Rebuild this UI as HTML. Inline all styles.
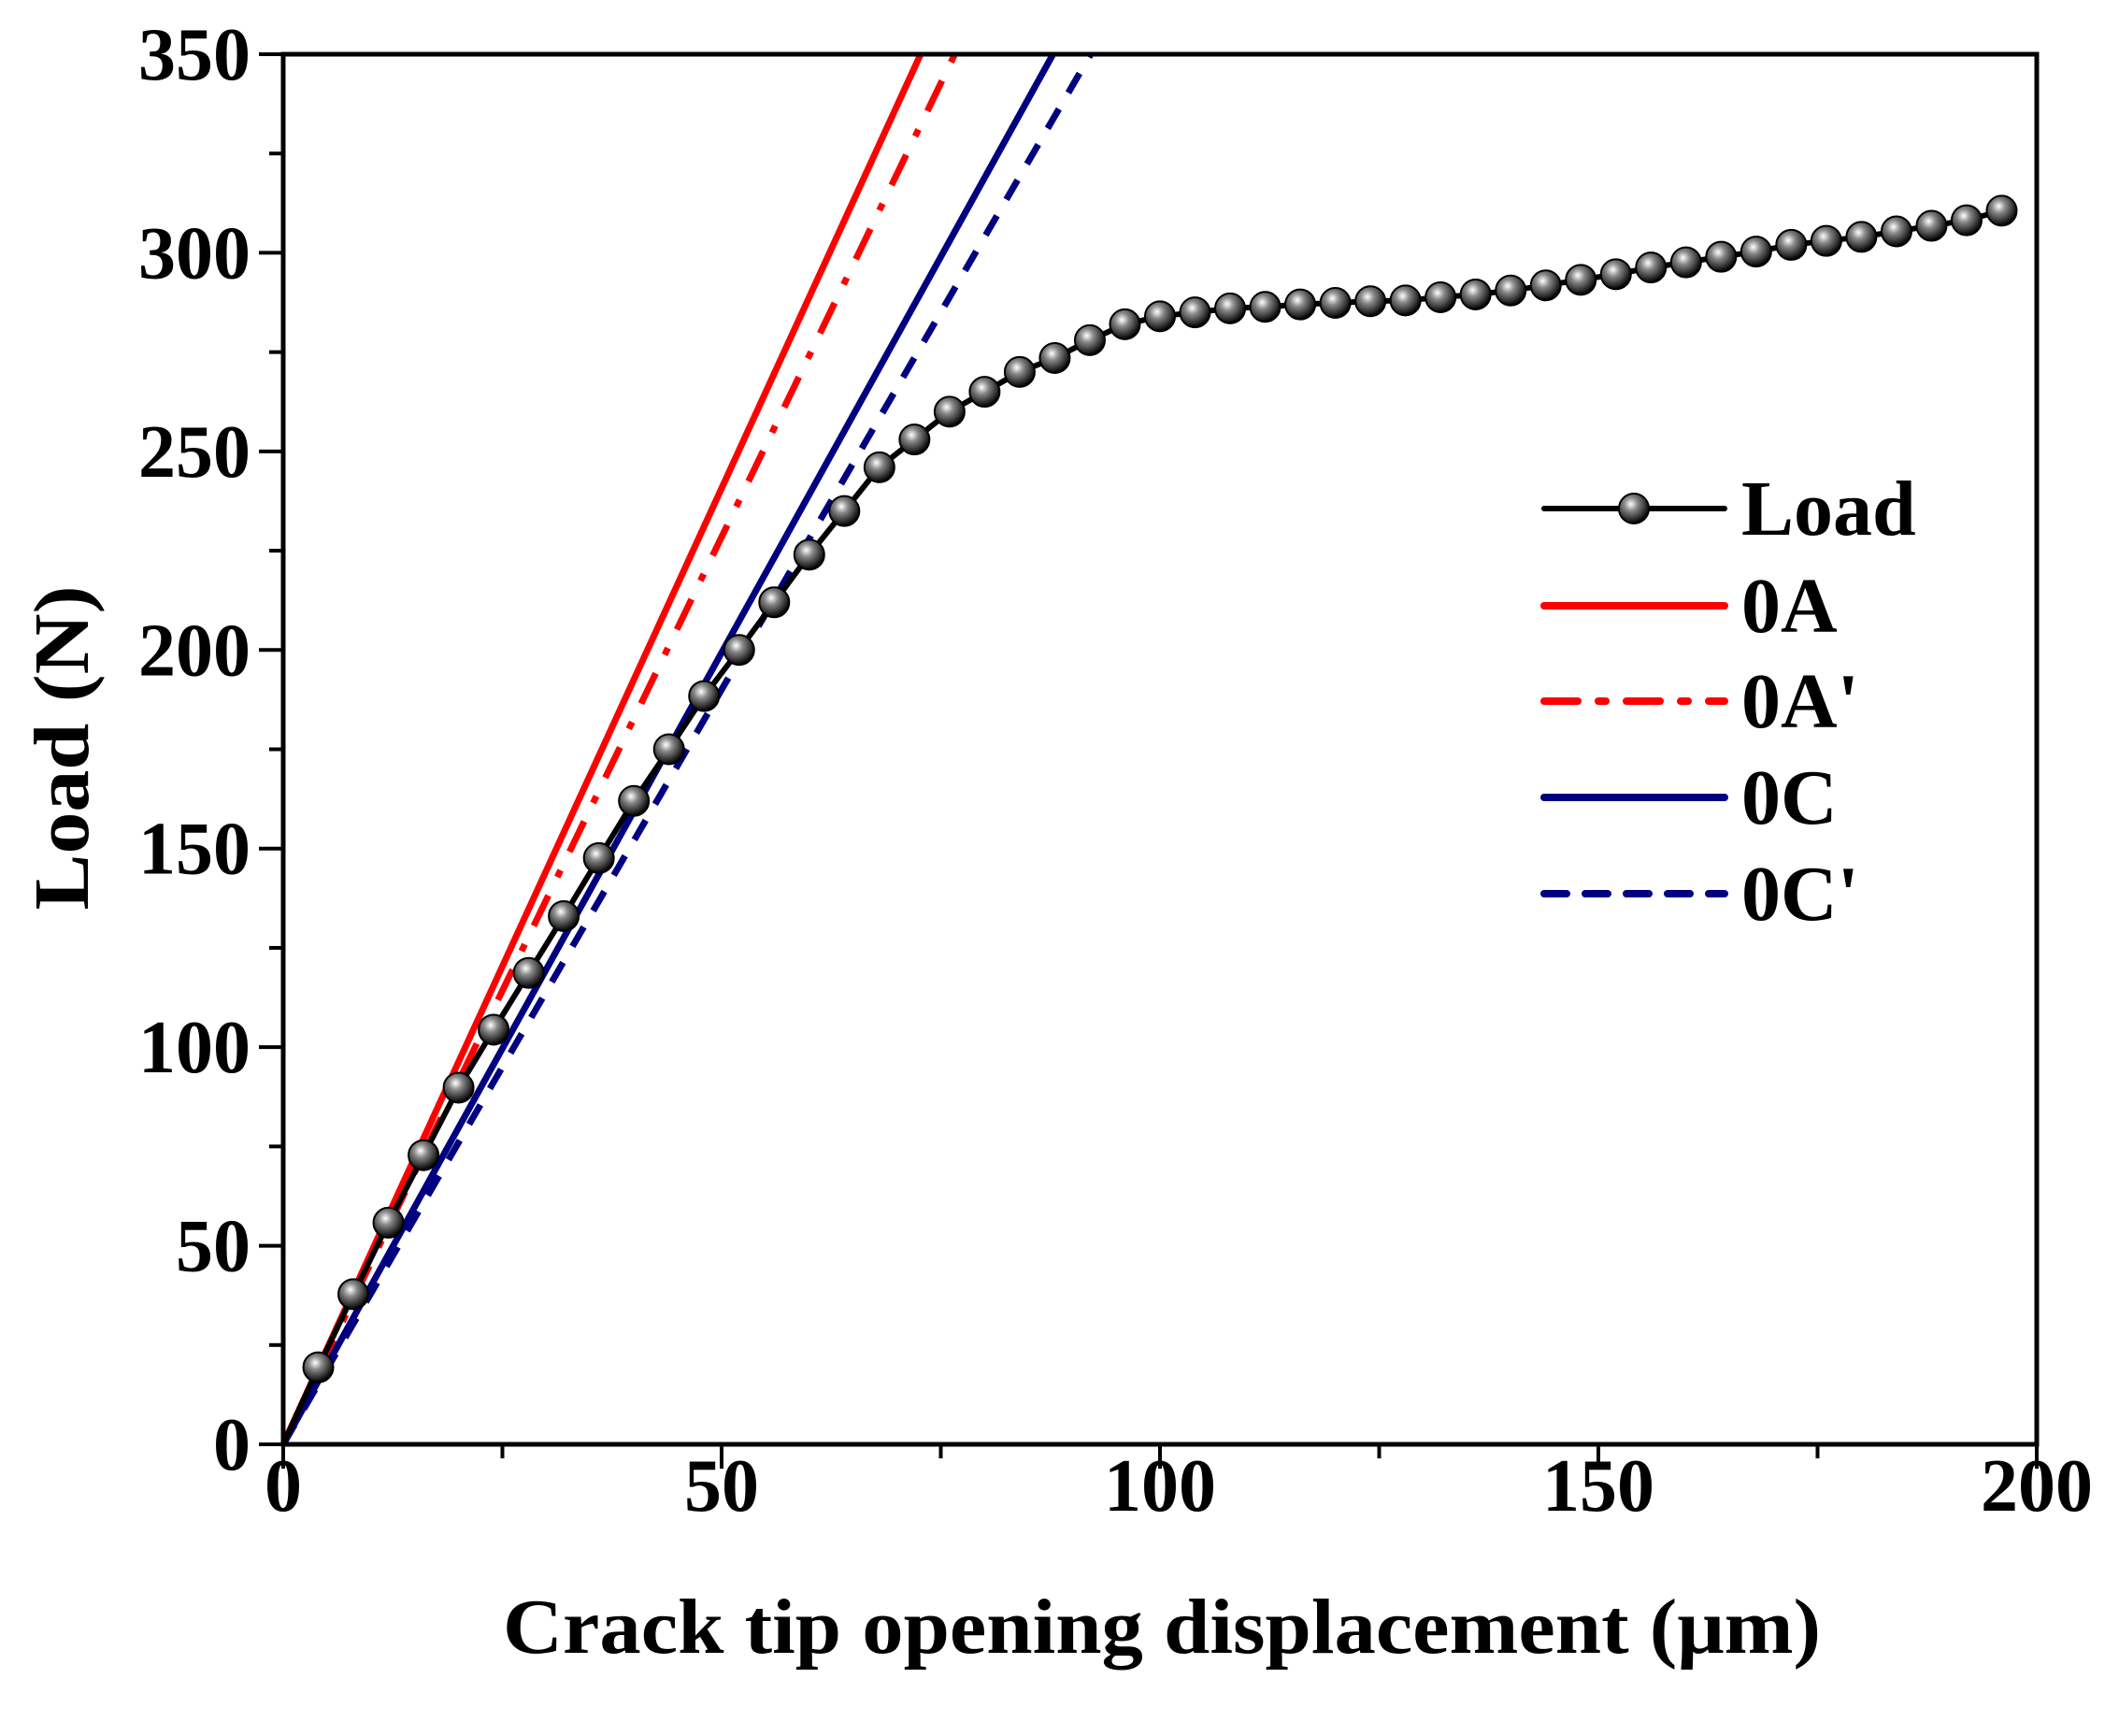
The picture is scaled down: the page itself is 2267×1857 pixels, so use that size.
<!DOCTYPE html>
<html><head><meta charset="utf-8"><style>html,body{margin:0;padding:0;background:#fff}svg{display:block}</style></head>
<body>
<svg id="chart" width="2267" height="1857" viewBox="0 0 2267 1857" xmlns="http://www.w3.org/2000/svg" font-family="'Liberation Serif', serif" font-weight="bold">
<defs>
<radialGradient id="ball" cx="0.4" cy="0.35" r="0.65">
<stop offset="0" stop-color="#fff"/><stop offset="0.35" stop-color="#888"/><stop offset="1" stop-color="#000"/>
</radialGradient>
</defs>
<g id="plot"></g>
</svg>
<script>
const xTicks = [0, 50, 100, 150, 200];
const yTicks = [0, 50, 100, 150, 200, 250, 300, 350];
const loadX = [4,8,12,16,20,24,28,32,36,40,44,48,52,56,60,64,68,72,76,80,84,88,92,96,100,104,108,112,116,120,124,128,132,136,140,144,148,152,156,160,164,168,172,176,180,184,188,192,196];
const loadY = [19.4,37.8,55.8,72.8,89.8,104.4,118.7,133,147.6,162,175,188.4,200,212,224,235,246,253,260,265,270,273.5,278,282,284,285,286,286.4,287,287.4,287.8,288,288.8,289.5,290.5,291.8,293.2,294.6,296.3,297.6,299,300.3,302,303,304,305.4,306.8,308.2,310.6];
const fitNames = ['0A', "0A'", '0C', "0C'"];
const fitXat350 = [72.7, 76.6, 87.8, 92.1];

const NS = 'http://www.w3.org/2000/svg';
const L = 303, R = 2179, T = 58, B = 1545;
const sx = v => L + v / 200 * (R - L);
const sy = v => B - v / 350 * (B - T);
const g = document.getElementById('plot');
function mk(tag, attrs, parent) {
  const e = document.createElementNS(NS, tag);
  for (const k in attrs) e.setAttribute(k, attrs[k]);
  (parent || g).appendChild(e);
  return e;
}
const styles = [
  {c:'#ff0000', d:'none'},
  {c:'#ff0000', d:'36 22 8 22'},
  {c:'#000080', d:'none'},
  {c:'#000080', d:'24 20'}
];
// clip
const cp = mk('clipPath', {id:'clip'});
mk('rect', {x:L, y:T, width:R-L, height:B-T}, cp);

// fit lines
fitNames.forEach((n, i) => {
  const ln = mk('line', {x1:sx(0), y1:sy(0), x2:sx(fitXat350[i]), y2:sy(350), stroke:styles[i].c, 'stroke-width':7, 'stroke-dasharray':styles[i].d, 'clip-path':'url(#clip)'});
  
  
});
// load line
let d = 'M' + sx(0) + ' ' + sy(0);
loadX.forEach((x, i) => { d += ' L' + sx(x) + ' ' + sy(loadY[i]); });
const lp = mk('path', {d:d, fill:'none', stroke:'#000', 'stroke-width':6});


loadX.forEach((x, i) => {
  const c = mk('circle', {cx:sx(x), cy:sy(loadY[i]), r:16, fill:'url(#ball)', stroke:'#000', 'stroke-width':2});
  
  
});

// axes frame
const fr = mk('rect', {x:L, y:T, width:R-L, height:B-T, fill:'none', stroke:'#000', 'stroke-width':5});



// x ticks
for (let v = 0; v <= 200; v += 25) {
  const major = v % 50 === 0;
  mk('line', {x1:sx(v), y1:B, x2:sx(v), y2:B + (major ? 26 : 15), stroke:'#000', 'stroke-width':4});
}
xTicks.forEach(v => {
  const t = mk('text', {x:sx(v), y:1616, 'font-size':80, 'text-anchor':'middle'});
  t.textContent = v;
  
  
});
// y ticks
for (let v = 0; v <= 350; v += 25) {
  const major = v % 50 === 0;
  mk('line', {x1:L, y1:sy(v), x2:L - (major ? 26 : 15), y2:sy(v), stroke:'#000', 'stroke-width':4});
}
yTicks.forEach(v => {
  const t = mk('text', {x:268, y:sy(v) + 27, 'font-size':80, 'text-anchor':'end'});
  t.textContent = v;
  
  
});

// axis titles
const xt = mk('text', {x:1243, y:1768, 'font-size':84, 'text-anchor':'middle', textLength:1410, lengthAdjust:'spacingAndGlyphs'});
xt.textContent = 'Crack tip opening displacement (μm)';


const yt = mk('text', {x:0, y:0, 'font-size':84, 'text-anchor':'middle', transform:'translate(94 800) rotate(-90)', textLength:347, lengthAdjust:'spacingAndGlyphs'});
yt.textContent = 'Load (N)';



// legend
const lg = mk('g', {});


const rows = [544, 648, 750, 853, 956];
const labels = ['Load'].concat(fitNames);
labels.forEach((lab, i) => {
  const y = rows[i];
  const st = i === 0 ? {c:'#000', d:'none'} : styles[i - 1];
  mk('line', {x1:1652, y1:y, x2:1845, y2:y, stroke:st.c, 'stroke-width':i === 0 ? 6 : 8, 'stroke-dasharray':st.d, 'stroke-linecap':'round'}, lg);
  if (i === 0) mk('circle', {cx:1748, cy:y, r:16, fill:'url(#ball)', stroke:'#000', 'stroke-width':2}, lg);
  const t = mk('text', {x:1863, y:y + 28, 'font-size':84}, lg);
  t.textContent = lab;
  
  
});
</script>
</body></html>
